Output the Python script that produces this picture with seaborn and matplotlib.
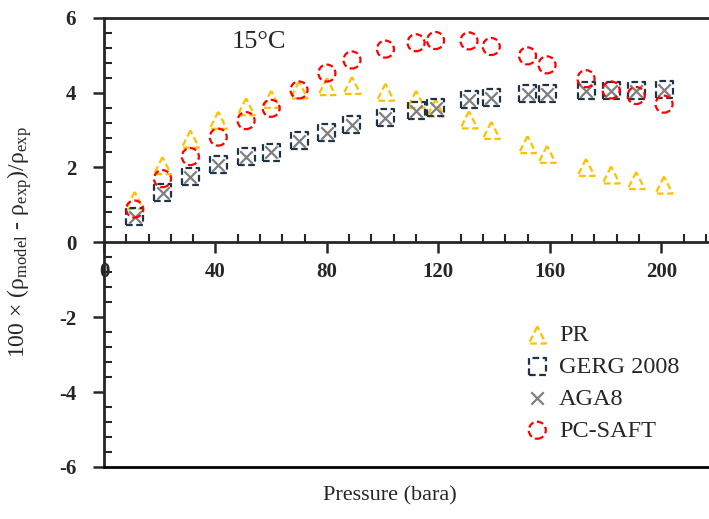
import matplotlib
matplotlib.use("Agg")
import matplotlib.pyplot as plt
import seaborn as sns
import numpy as np
from matplotlib.ticker import MultipleLocator

pressure = [11, 21, 31, 41, 51, 60, 70, 80, 89, 101, 112, 119, 131, 139, 152, 159, 173, 182, 191, 201]
pr = [1.12, 2.05, 2.76, 3.26, 3.62, 3.82, 4.07, 4.16, 4.19, 4.01, 3.82, 3.59, 3.27, 2.99, 2.61, 2.35, 2.00, 1.80, 1.65, 1.53]
gerg = [0.69, 1.32, 1.76, 2.07, 2.29, 2.41, 2.72, 2.93, 3.14, 3.33, 3.51, 3.60, 3.81, 3.87, 3.98, 3.98, 4.05, 4.05, 4.05, 4.07]
aga8 = [0.69, 1.31, 1.75, 2.06, 2.28, 2.40, 2.71, 2.92, 3.13, 3.32, 3.50, 3.59, 3.80, 3.86, 3.97, 3.97, 4.04, 4.04, 4.04, 4.06]
pcsaft = [0.89, 1.70, 2.29, 2.81, 3.25, 3.58, 4.07, 4.52, 4.87, 5.16, 5.33, 5.39, 5.38, 5.23, 4.98, 4.74, 4.37, 4.07, 3.92, 3.69]

x_ticks = [0, 40, 80, 120, 160, 200]
y_ticks = [-6, -4, -2, 0, 2, 4, 6]

sns.set_style("ticks")
plt.rcParams['font.family'] = ['Liberation Serif', 'DejaVu Serif']
plt.rcParams['mathtext.fontset'] = 'stix'
plt.rcParams['axes.unicode_minus'] = False

W, H = 709, 519
ax_w = (W - 104) + 8
fig = plt.figure(figsize=(W / 100, H / 100), dpi=100)
ax = fig.add_axes([104 / W, (H - 467) / H, ax_w / W, (467 - 17.7) / H])

dash = (0, (3, 1.6))
ms = 150
sns.scatterplot(x=pressure, y=pr, marker='^', s=ms, facecolor='none', edgecolor='#FFC000',
                linewidth=1.6, linestyle=dash, label='PR', ax=ax, zorder=3)
sns.scatterplot(x=pressure, y=gerg, marker='s', s=ms, facecolor='none', edgecolor='#1F3346',
                linewidth=1.6, linestyle=dash, label='GERG 2008', ax=ax, zorder=3)
sns.scatterplot(x=pressure, y=aga8, marker='x', s=80, color='#7F7F7F',
                linewidth=1.6, label='AGA8', ax=ax, zorder=4)
sns.scatterplot(x=pressure, y=pcsaft, marker='o', s=ms, facecolor='none', edgecolor='#FF0000',
                linewidth=1.6, linestyle=dash, label='PC-SAFT', ax=ax, zorder=5)

ax.set_xlim(0, 220)
ax.set_ylim(-6, 6)

ax.spines['bottom'].set_position(('data', 0))
ax.spines['right'].set_visible(False)
for s in ['left', 'bottom', 'top']:
    ax.spines[s].set_linewidth(2)
ax.axhline(-6, color='black', lw=2, clip_on=False, zorder=6)

ax.set_xticks(x_ticks)
ax.set_yticks(y_ticks)
ax.xaxis.set_minor_locator(MultipleLocator(8))
ax.yaxis.set_minor_locator(MultipleLocator(0.4))
ax.tick_params(axis='both', which='major', direction='out', length=8, width=1.8,
               labelsize=15)
ax.tick_params(axis='x', which='major', pad=6)
ax.tick_params(axis='y', which='major', pad=12)
ax.tick_params(axis='both', which='minor', direction='in', length=6, width=1.5)
for lab in ax.get_xticklabels() + ax.get_yticklabels():
    lab.set_fontweight('bold')

ax.set_xlabel('Pressure (bara)', fontsize=16)
ax.xaxis.set_label_coords((390 - 104) / ax_w, -0.042)
ax.set_ylabel(r'100 × (ρ$_\mathregular{model}$ - ρ$_\mathregular{exp}$)/ρ$_\mathregular{exp}$', fontsize=17)
ax.yaxis.set_label_coords((34 - 104) / ax_w, 0.5)

ax.text(55.5, 5.36, '15°C', fontsize=19, ha='center', va='center')

leg = ax.legend(loc='center left', bbox_to_anchor=(513 / W, (H - 383) / H),
                bbox_transform=fig.transFigure,
                frameon=False, fontsize=17.5, handletextpad=0.3, labelspacing=0.4,
                borderaxespad=0, handlelength=1.2)

fig.savefig('out.png', dpi=100)
